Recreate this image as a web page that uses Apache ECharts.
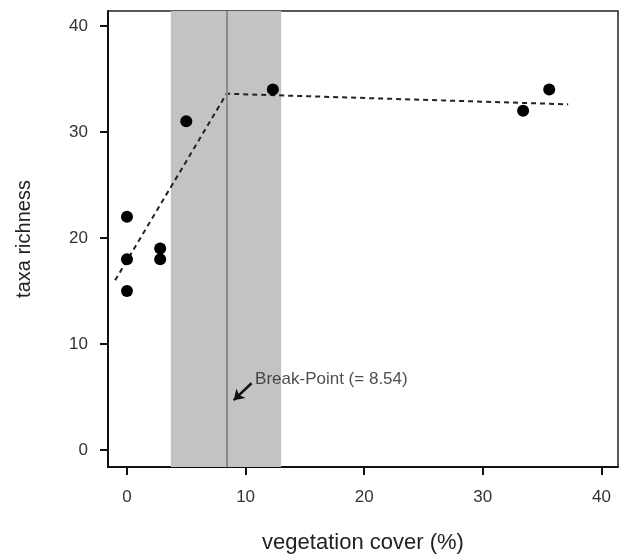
<!DOCTYPE html>
<html><head><meta charset="utf-8">
<script src="https://cdn.jsdelivr.net/npm/echarts@6/dist/echarts.min.js"></script>
<style>html,body{margin:0;padding:0;background:#fff}#c{width:624px;height:554px}</style>
</head><body><div id="c"></div>
<script>
var xTicks = [0, 10, 20, 30, 40];
var yTicks = [0, 10, 20, 30, 40];
var vegCover = [0, 0, 0, 2.8, 2.8, 5.0, 12.3, 33.4, 35.6];
var taxaRichness = [22, 18, 15, 19, 18, 31, 34, 32, 34];
var fitX = [-1.0, 8.4, 37.2];
var fitY = [16.0, 33.6, 32.6];
var ciBand = [3.7, 13.0];
var breakPoint = 8.4;
var breakLabel = 'Break-Point (= 8.54)';

var font = 'Liberation Sans, Arial, Helvetica, sans-serif';
var chart = echarts.init(document.getElementById('c'));
chart.setOption({
  backgroundColor: '#fff',
  animation: false,
  grid: { left: 108, right: 6, top: 11, bottom: 87, outerBoundsMode: 'none', containLabel: false,
    show: true, borderColor: '#222', borderWidth: 1.5, backgroundColor: 'transparent' },
  xAxis: {
    type: 'value', min: -1.6, max: 41.4,
    name: 'vegetation cover (%)', nameLocation: 'middle', nameGap: 65,
    nameTextStyle: { fontFamily: font, fontSize: 22, color: '#222' },
    axisLine: { show: true, onZero: false, lineStyle: { color: '#111', width: 2 } },
    axisTick: { show: true, inside: false, length: 8, lineStyle: { color: '#111', width: 2 }, customValues: xTicks },
    axisLabel: { fontFamily: font, fontSize: 17, color: '#333', margin: 22, customValues: xTicks },
    splitLine: { show: false }
  },
  yAxis: {
    type: 'value', min: -1.6, max: 41.4,
    name: 'taxa richness', nameLocation: 'middle', nameGap: 74, nameRotate: 90,
    nameTextStyle: { fontFamily: font, fontSize: 20, color: '#222' },
    axisLine: { show: true, onZero: false, lineStyle: { color: '#111', width: 2 } },
    axisTick: { show: true, inside: false, length: 8, lineStyle: { color: '#111', width: 2 }, customValues: yTicks },
    axisLabel: { fontFamily: font, fontSize: 17, color: '#333', margin: 20, customValues: yTicks },
    splitLine: { show: false }
  },
  series: [
    {
      type: 'line', data: [], z: 1, silent: true,
      markArea: { silent: true, itemStyle: { color: '#c3c3c5' }, data: [[{ xAxis: ciBand[0] }, { xAxis: ciBand[1] }]] },
      markLine: { silent: true, symbol: 'none', label: { show: false },
        lineStyle: { color: '#8a8a8a', width: 2, type: 'solid' }, data: [{ xAxis: breakPoint }] }
    },
    {
      type: 'line', z: 3, silent: true, symbol: 'none',
      data: fitX.map(function (x, i) { return [x, fitY[i]]; }),
      lineStyle: { color: '#222', width: 2, type: [5, 4] }
    },
    {
      type: 'scatter', z: 4, symbol: 'circle', symbolSize: 12,
      itemStyle: { color: '#000', opacity: 1 },
      data: vegCover.map(function (x, i) { return [x, taxaRichness[i]]; })
    },
    {
      type: 'scatter', z: 5, symbolSize: 0, silent: true,
      data: [[10.8, 6.7]],
      label: { show: true, position: 'right', distance: 0, formatter: breakLabel,
        fontFamily: font, fontSize: 17, color: '#222' },
      markLine: { silent: true, label: { show: false }, symbolSize: 10,
        lineStyle: { color: '#111', width: 2.5, type: 'solid' },
        data: [[{ coord: [10.5, 6.3], symbol: 'none' }, { coord: [9.0, 4.7], symbol: 'arrow' }]] }
    }
  ]
});
</script></body></html>
